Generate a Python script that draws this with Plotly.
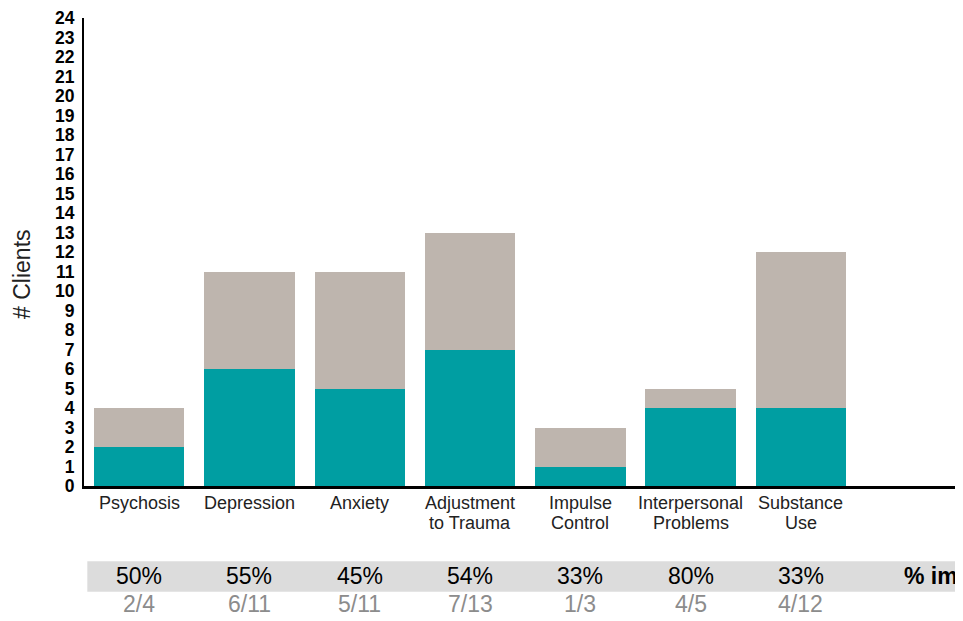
import plotly.graph_objects as go

categories = ["Psychosis", "Depression", "Anxiety", "Adjustment<br>to Trauma",
              "Impulse<br>Control", "Interpersonal<br>Problems", "Substance<br>Use"]
improved = [2, 6, 5, 7, 1, 4, 4]
total = [4, 11, 11, 13, 3, 5, 12]
y_ticks = list(range(0, 25))

not_improved = [t - i for t, i in zip(total, improved)]
xs = list(range(len(categories)))
pct = [f"{round(i / t * 100)}%" for i, t in zip(improved, total)]
frac = [f"{i}/{t}" for i, t in zip(improved, total)]

TEAL = "#009ea2"
BEIGE = "#beb5ae"
FONT = "Liberation Sans, Arial, sans-serif"

fig = go.Figure()
fig.add_bar(x=xs, y=improved, marker_color=TEAL, width=0.82, marker_line_width=0,
            name="Improved")
fig.add_bar(x=xs, y=not_improved, marker_color=BEIGE, width=0.82, marker_line_width=0,
            name="Not improved")

fig.update_layout(
    barmode="stack",
    width=955, height=613,
    margin=dict(l=76, r=0, t=5, b=135),
    plot_bgcolor="white", paper_bgcolor="white",
    showlegend=False,
    font=dict(family=FONT, color="#222222"),
)
fig.update_xaxes(
    range=[-0.5, 7.47],
    tickvals=xs, showticklabels=False,
    showline=True, linewidth=3, linecolor="black",
    showgrid=False, zeroline=False, ticks="",
)
fig.update_yaxes(
    range=[0, 24], tickvals=y_ticks,
    tickfont=dict(size=17.5, color="black", weight="bold"),
    ticklabeloverflow="allow", ticklabelstandoff=4,
    showline=True, linewidth=2, linecolor="black",
    showgrid=False, zeroline=False, ticks="",
)

# category labels (two-line labels with tight line spacing)
for x, cat in zip(xs, categories):
    for k, line in enumerate(cat.split("<br>")):
        fig.add_annotation(x=x, y=-0.036 - 0.042 * k, xref="x", yref="paper",
                           text=line, yanchor="middle", showarrow=False,
                           font=dict(size=18, color="#222222", family=FONT))

# y-axis title
fig.add_annotation(x=-0.070, y=0.452, xref="paper", yref="paper", text="# Clients",
                   textangle=-90, showarrow=False, xanchor="center", yanchor="middle",
                   font=dict(size=23, color="#222222", family=FONT))

# grey band behind the percentages
fig.add_shape(type="rect", xref="x", yref="paper",
              x0=-0.47, x1=8, y0=-0.226, y1=-0.161,
              fillcolor="#dcdcdc", line_width=0, layer="below")

for x, p, f in zip(xs, pct, frac):
    fig.add_annotation(x=x, y=-0.193, xref="x", yref="paper", text=p, yanchor="middle",
                       showarrow=False, font=dict(size=23, color="black", family=FONT))
    fig.add_annotation(x=x, y=-0.253, xref="x", yref="paper", text=f, yanchor="middle",
                       showarrow=False, font=dict(size=23, color="#8c8c8c", family=FONT))

fig.add_annotation(x=6.92, y=-0.193, xref="x", yref="paper", text="% improved",
                   xanchor="left", yanchor="middle", showarrow=False,
                   font=dict(size=23, color="black", family=FONT, weight="bold"))

fig.write_html("out.html")
